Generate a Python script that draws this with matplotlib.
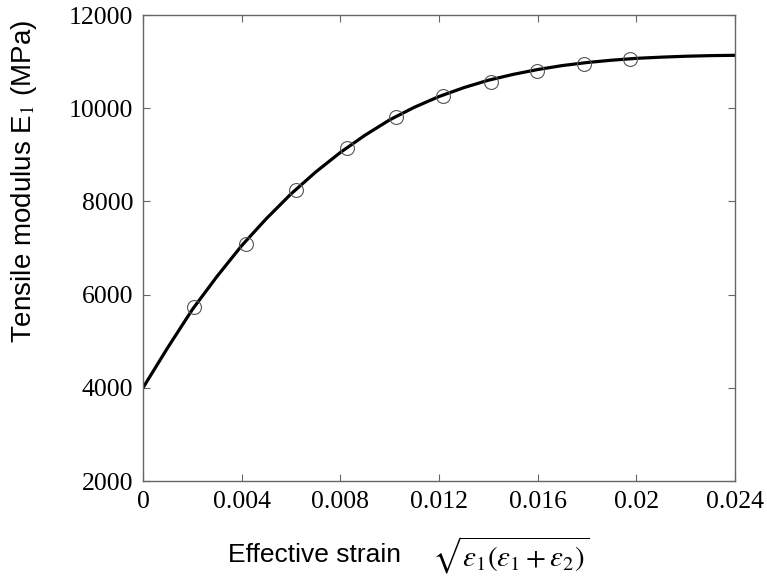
import numpy as np
import matplotlib
matplotlib.use('Agg')
import matplotlib.pyplot as plt

# fitted curve
curve_strain = [0.000, 0.001, 0.002, 0.003, 0.004, 0.005, 0.006, 0.007, 0.008,
                0.009, 0.010, 0.011, 0.012, 0.013, 0.014, 0.015, 0.016, 0.017,
                0.018, 0.019, 0.020, 0.021, 0.022, 0.023, 0.024]
curve_modulus = [4000, 4860, 5680, 6390, 7050, 7630, 8160, 8630, 9050,
                 9420, 9750, 10020, 10250, 10440, 10600, 10725, 10830, 10915,
                 10980, 11030, 11070, 11095, 11115, 11128, 11135]

# measured points (open circles)
meas_strain = [0.00207, 0.00417, 0.00621, 0.00826, 0.01025, 0.01218,
               0.01411, 0.01598, 0.01786, 0.01973]
meas_modulus = [5727, 7092, 8245, 9139, 9818, 10262, 10562, 10805, 10948, 11056]

xticks = [0, 0.004, 0.008, 0.012, 0.016, 0.02, 0.024]
xtick_labels = ['0', '0.004', '0.008', '0.012', '0.016', '0.02', '0.024']
yticks = [2000, 4000, 6000, 8000, 10000, 12000]

plt.rcParams['mathtext.fontset'] = 'stix'

fig = plt.figure(figsize=(7.67, 5.77), dpi=100)
ax = fig.add_axes([143 / 767, 96 / 577, 592 / 767, 466 / 577])

ax.plot(curve_strain, curve_modulus, color='black', linewidth=2.3, zorder=2)
ax.plot(meas_strain, meas_modulus, linestyle='none', marker='o', markersize=10,
        markerfacecolor='none', markeredgecolor='#555555', markeredgewidth=0.8, zorder=3)

ax.set_xlim(0, 0.024)
ax.set_ylim(2000, 12000)
ax.set_xticks(xticks)
ax.set_xticklabels(xtick_labels)
ax.set_yticks(yticks)

for s in ax.spines.values():
    s.set_color('#666666')
    s.set_linewidth(1.0)
ax.tick_params(direction='in', length=5, width=0.8, color='#666666',
               top=True, right=True, labelsize=18.5)
ax.tick_params(axis='x', pad=7)
ax.tick_params(axis='y', pad=7)
for lab in ax.get_xticklabels() + ax.get_yticklabels():
    lab.set_fontfamily('Liberation Serif')

fig.text(24 / 767, 1 - 181 / 577, r'Tensile modulus E$_1$ (MPa)', rotation=90,
         ha='center', va='center', fontsize=20, family='Liberation Sans')
fig.text(228 / 767, 1 - 562 / 577, 'Effective strain', ha='left', va='baseline',
         fontsize=19, family='Liberation Sans')
fig.text(432 / 767, 1 - 555 / 577,
         r'$\sqrt{\varepsilon_{\mathrm{1}}(\varepsilon_{\mathrm{1}}+\varepsilon_{\mathrm{2}})}$',
         ha='left', va='center', fontsize=21)

fig.savefig('out.png', dpi=100)
